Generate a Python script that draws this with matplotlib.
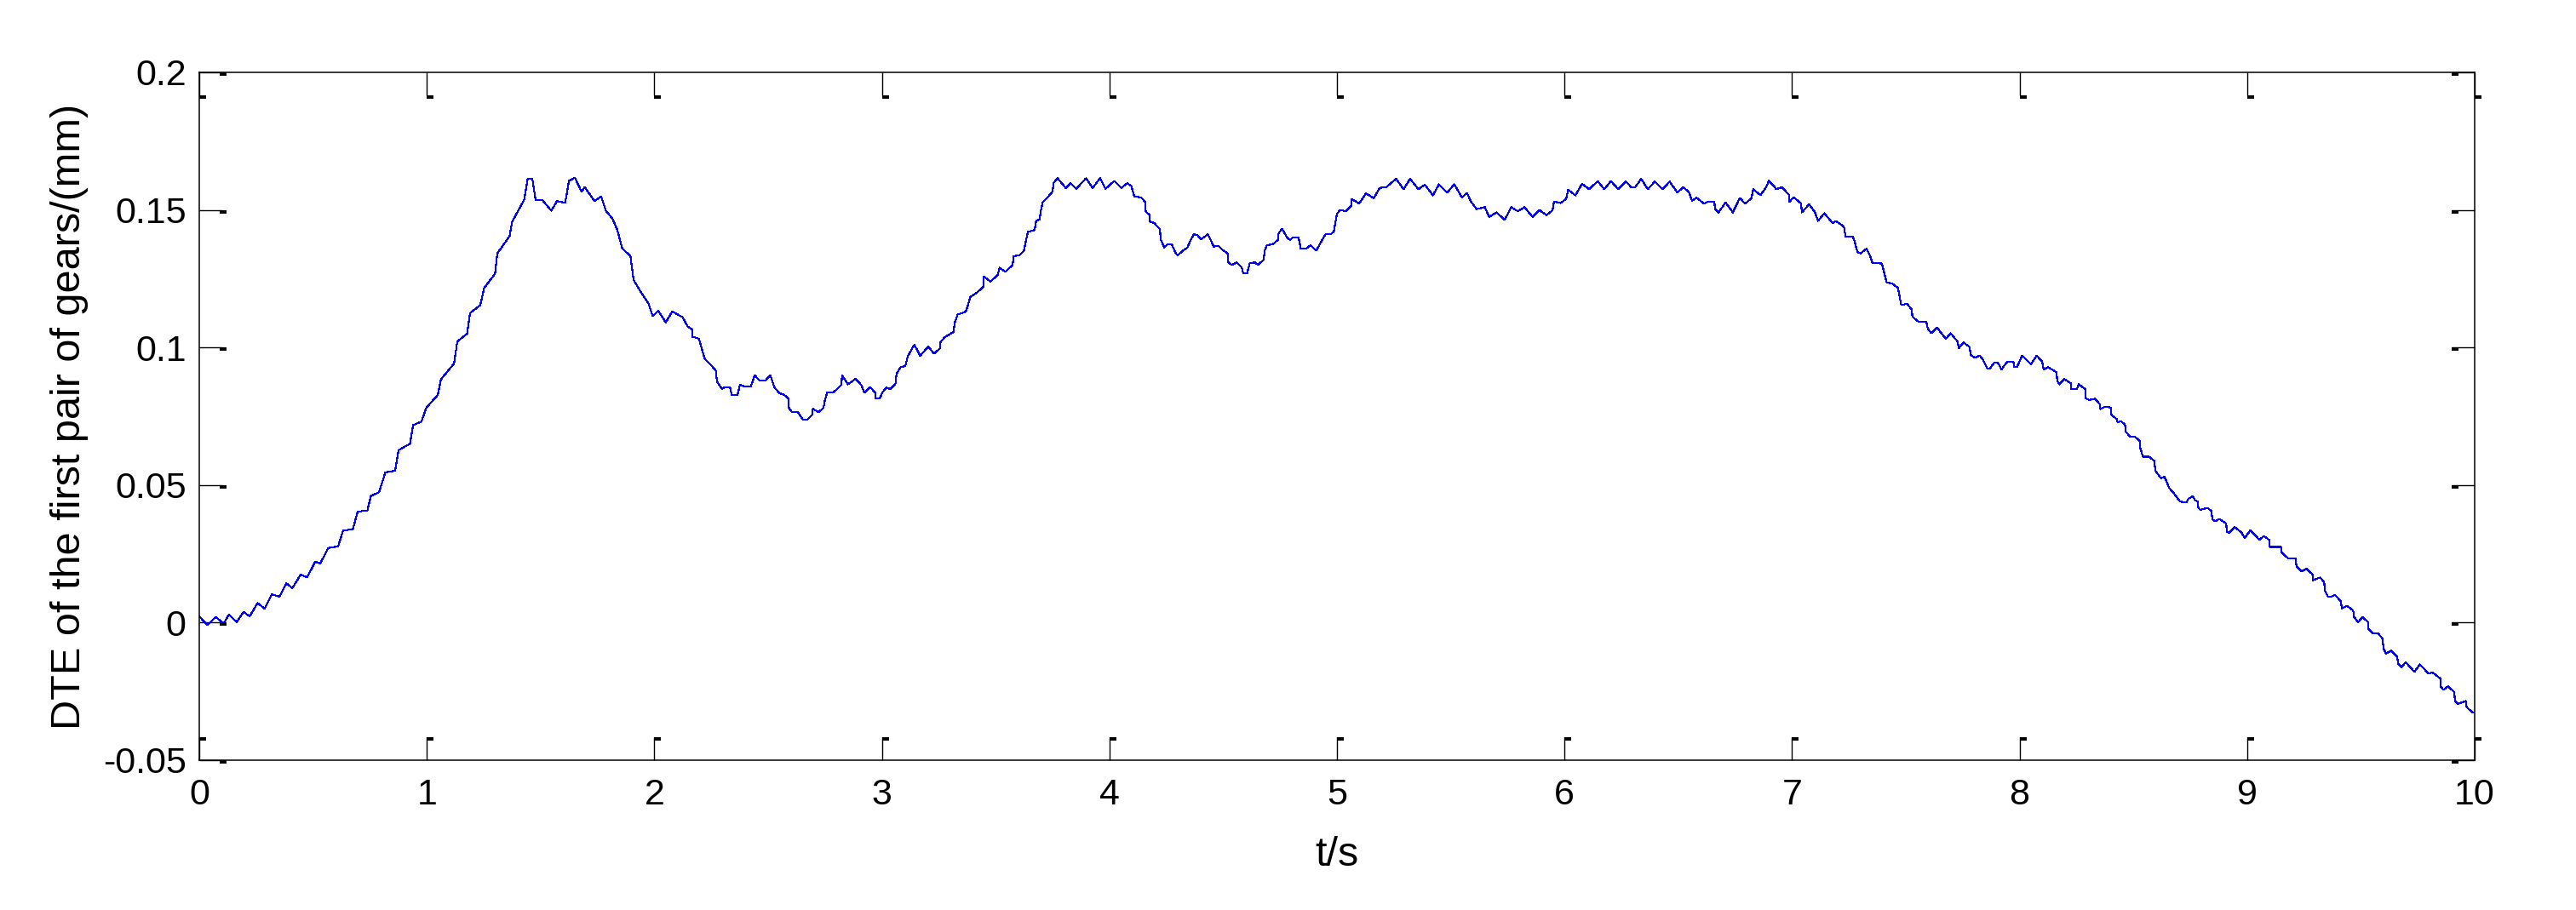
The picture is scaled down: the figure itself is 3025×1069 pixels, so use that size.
import matplotlib
matplotlib.use('Agg')
import matplotlib.pyplot as plt
from matplotlib.patches import Rectangle
from matplotlib.transforms import IdentityTransform

plt.rcParams['font.family'] = ['Liberation Sans', 'DejaVu Sans']

# --- data (t in s, DTE in mm) ---
# 0 .. 2.1 s : rise to the first peak
t_rise = [0.000, 0.036, 0.072, 0.108, 0.130, 0.165, 0.194, 0.222, 0.256, 0.287,
          0.319, 0.352, 0.383, 0.409, 0.445, 0.474, 0.510, 0.531, 0.567, 0.610,
          0.632, 0.675, 0.696, 0.739, 0.754, 0.790, 0.818, 0.861, 0.876, 0.926,
          0.940, 0.976, 0.998, 1.048, 1.062, 1.120, 1.134, 1.177, 1.190, 1.235,
          1.252, 1.300, 1.310, 1.364, 1.375, 1.428, 1.443, 1.464, 1.478, 1.507,
          1.547, 1.572, 1.608, 1.625, 1.651, 1.680, 1.694, 1.737, 1.766, 1.787,
          1.816, 1.837, 1.859, 1.895, 1.909, 1.938, 1.974, 1.993, 2.017, 2.050,
          2.079]
dte_rise = [0.0023, -0.0009, 0.0020, -0.0003, 0.0029, 0.0002, 0.0039, 0.0023, 0.0071, 0.0051,
            0.0103, 0.0094, 0.0143, 0.0125, 0.0174, 0.0165, 0.0222, 0.0214, 0.0271, 0.0277,
            0.0334, 0.0340, 0.0403, 0.0408, 0.0460, 0.0474, 0.0546, 0.0552, 0.0627, 0.0650,
            0.0718, 0.0730, 0.0781, 0.0827, 0.0884, 0.0942, 0.1022, 0.1050, 0.1125, 0.1154,
            0.1216, 0.1268, 0.1342, 0.1405, 0.1457, 0.1537, 0.1612, 0.1612, 0.1537, 0.1537,
            0.1497, 0.1532, 0.1526, 0.1606, 0.1617, 0.1566, 0.1583, 0.1532, 0.1549, 0.1497,
            0.1468, 0.1428, 0.1360, 0.1332, 0.1245, 0.1205, 0.1160, 0.1114, 0.1134, 0.1091,
            0.1131]

# 2.1 .. 4.3 s : valley and second peak
t_valley = [2.124, 2.146, 2.168, 2.168, 2.196, 2.211, 2.222, 2.247, 2.271, 2.275,
            2.297, 2.311, 2.333, 2.340, 2.366, 2.376, 2.398, 2.424, 2.441, 2.463,
            2.487, 2.510, 2.527, 2.549, 2.568, 2.588, 2.592, 2.606, 2.631, 2.654,
            2.671, 2.693, 2.697, 2.721, 2.743, 2.750, 2.760, 2.786, 2.822, 2.825,
            2.851, 2.884, 2.909, 2.923, 2.949, 2.970, 2.973, 2.991, 3.002, 3.019,
            3.038, 3.060, 3.064, 3.081, 3.103, 3.114, 3.134, 3.143, 3.168, 3.204,
            3.229, 3.254, 3.258, 3.276, 3.316, 3.319, 3.333, 3.369, 3.379, 3.388,
            3.412, 3.445, 3.448, 3.477, 3.509, 3.517, 3.542, 3.575, 3.578, 3.604,
            3.624, 3.632, 3.642, 3.671, 3.678, 3.693, 3.700, 3.707, 3.729, 3.750,
            3.755, 3.772, 3.808, 3.829, 3.854, 3.897, 3.926, 3.959, 3.983, 4.021,
            4.053, 4.078, 4.096, 4.110, 4.139, 4.156, 4.160, 4.175, 4.179, 4.196,
            4.222, 4.225, 4.240, 4.254, 4.275, 4.290, 4.300, 4.326]
dte_valley = [0.1110, 0.1077, 0.1064, 0.1039, 0.1032, 0.0988, 0.0958, 0.0938, 0.0915, 0.0876,
              0.0849, 0.0856, 0.0854, 0.0827, 0.0829, 0.0864, 0.0858, 0.0858, 0.0899, 0.0879,
              0.0879, 0.0899, 0.0856, 0.0834, 0.0829, 0.0816, 0.0777, 0.0765, 0.0765, 0.0737,
              0.0737, 0.0755, 0.0777, 0.0765, 0.0780, 0.0810, 0.0836, 0.0836, 0.0864, 0.0899,
              0.0866, 0.0886, 0.0864, 0.0836, 0.0856, 0.0836, 0.0814, 0.0816, 0.0836, 0.0854,
              0.0849, 0.0869, 0.0903, 0.0928, 0.0933, 0.0968, 0.0998, 0.1010, 0.0970, 0.1003,
              0.0978, 0.0995, 0.1020, 0.1037, 0.1057, 0.1087, 0.1120, 0.1130, 0.1156, 0.1183,
              0.1196, 0.1219, 0.1258, 0.1240, 0.1263, 0.1290, 0.1275, 0.1300, 0.1332, 0.1335,
              0.1351, 0.1384, 0.1420, 0.1427, 0.1460, 0.1466, 0.1503, 0.1528, 0.1546, 0.1567,
              0.1599, 0.1615, 0.1580, 0.1597, 0.1577, 0.1615, 0.1580, 0.1615, 0.1577, 0.1605,
              0.1580, 0.1597, 0.1587, 0.1548, 0.1546, 0.1530, 0.1493, 0.1483, 0.1456, 0.1453,
              0.1430, 0.1394, 0.1364, 0.1374, 0.1374, 0.1344, 0.1335, 0.1354]

# 4.3 .. 6.6 s : plateau
t_plateau = [4.342, 4.357, 4.371, 4.386, 4.403, 4.432, 4.445, 4.458, 4.480, 4.494,
             4.519, 4.523, 4.538, 4.559, 4.581, 4.588, 4.605, 4.617, 4.639, 4.653,
             4.678, 4.682, 4.692, 4.718, 4.740, 4.744, 4.759, 4.780, 4.793, 4.808,
             4.831, 4.841, 4.866, 4.884, 4.909, 4.935, 4.949, 4.971, 4.986, 5.000,
             5.014, 5.039, 5.062, 5.065, 5.097, 5.127, 5.162, 5.188, 5.217, 5.260,
             5.293, 5.321, 5.358, 5.386, 5.422, 5.448, 5.484, 5.516, 5.549, 5.571,
             5.589, 5.614, 5.650, 5.669, 5.701, 5.737, 5.766, 5.795, 5.824, 5.860,
             5.889, 5.921, 5.947, 5.954, 5.983, 6.007, 6.016, 6.048, 6.077, 6.109,
             6.146, 6.175, 6.204, 6.236, 6.270, 6.293, 6.311, 6.337, 6.366, 6.397,
             6.431, 6.462, 6.496, 6.522, 6.546, 6.561, 6.580]
dte_plateau = [0.1362, 0.1391, 0.1411, 0.1409, 0.1393, 0.1411, 0.1391, 0.1367, 0.1369, 0.1357,
               0.1342, 0.1309, 0.1300, 0.1309, 0.1292, 0.1270, 0.1270, 0.1307, 0.1309, 0.1300,
               0.1319, 0.1352, 0.1372, 0.1375, 0.1391, 0.1416, 0.1431, 0.1401, 0.1391, 0.1401,
               0.1401, 0.1360, 0.1360, 0.1372, 0.1352, 0.1391, 0.1411, 0.1411, 0.1421, 0.1486,
               0.1500, 0.1495, 0.1515, 0.1540, 0.1523, 0.1560, 0.1543, 0.1580, 0.1583, 0.1613,
               0.1575, 0.1613, 0.1575, 0.1592, 0.1553, 0.1593, 0.1563, 0.1593, 0.1545, 0.1562,
               0.1530, 0.1503, 0.1510, 0.1474, 0.1491, 0.1464, 0.1510, 0.1495, 0.1510, 0.1474,
               0.1500, 0.1481, 0.1498, 0.1530, 0.1525, 0.1540, 0.1573, 0.1553, 0.1595, 0.1575,
               0.1605, 0.1575, 0.1605, 0.1575, 0.1603, 0.1583, 0.1583, 0.1613, 0.1575, 0.1603,
               0.1575, 0.1603, 0.1563, 0.1583, 0.1565, 0.1533, 0.1545]

# 6.6 .. 7.9 s : start of the fall
t_fall = [6.613, 6.630, 6.659, 6.661, 6.677, 6.708, 6.740, 6.770, 6.794, 6.822,
          6.829, 6.861, 6.886, 6.898, 6.922, 6.929, 6.955, 6.986, 6.989, 7.007,
          7.040, 7.043, 7.075, 7.100, 7.114, 7.142, 7.178, 7.192, 7.228, 7.235,
          7.267, 7.277, 7.287, 7.302, 7.327, 7.341, 7.353, 7.395, 7.405, 7.415,
          7.441, 7.466, 7.472, 7.480, 7.505, 7.526, 7.529, 7.555, 7.590, 7.597,
          7.612, 7.637, 7.654, 7.676, 7.697, 7.728, 7.733, 7.754, 7.780, 7.785,
          7.804, 7.825, 7.839, 7.858, 7.870, 7.889]
dte_fall = [0.1523, 0.1530, 0.1530, 0.1504, 0.1491, 0.1527, 0.1491, 0.1543, 0.1523, 0.1543,
            0.1575, 0.1554, 0.1582, 0.1606, 0.1585, 0.1575, 0.1582, 0.1556, 0.1530, 0.1546,
            0.1523, 0.1491, 0.1520, 0.1493, 0.1460, 0.1488, 0.1452, 0.1460, 0.1439, 0.1404,
            0.1404, 0.1380, 0.1347, 0.1342, 0.1359, 0.1337, 0.1308, 0.1305, 0.1272, 0.1237,
            0.1232, 0.1216, 0.1188, 0.1154, 0.1159, 0.1138, 0.1112, 0.1094, 0.1094, 0.1067,
            0.1052, 0.1073, 0.1054, 0.1031, 0.1052, 0.1021, 0.0997, 0.1018, 0.1002, 0.0973,
            0.0962, 0.0971, 0.0955, 0.0924, 0.0924, 0.0945]

# 7.9 .. 10 s : tail
t_tail = [7.905, 7.921, 7.932, 7.948, 7.973, 7.976, 7.989, 8.011, 8.050, 8.075,
          8.099, 8.106, 8.125, 8.163, 8.165, 8.176, 8.196, 8.226, 8.228, 8.251,
          8.260, 8.288, 8.291, 8.305, 8.332, 8.352, 8.355, 8.373, 8.400, 8.404,
          8.427, 8.431, 8.444, 8.463, 8.467, 8.485, 8.508, 8.528, 8.531, 8.542,
          8.569, 8.593, 8.596, 8.621, 8.637, 8.657, 8.678, 8.705, 8.725, 8.734,
          8.742, 8.762, 8.770, 8.783, 8.786, 8.795, 8.827, 8.843, 8.847, 8.860,
          8.878, 8.908, 8.911, 8.921, 8.946, 8.976, 8.989, 9.014, 9.037, 9.054,
          9.073, 9.098, 9.100, 9.122, 9.149, 9.152, 9.179, 9.213, 9.217, 9.240,
          9.260, 9.287, 9.290, 9.321, 9.339, 9.341, 9.355, 9.369, 9.385, 9.412,
          9.416, 9.439, 9.466, 9.470, 9.488, 9.507, 9.532, 9.534, 9.552, 9.575,
          9.596, 9.599, 9.610, 9.633, 9.660, 9.663, 9.678, 9.697, 9.735, 9.759,
          9.796, 9.816, 9.850, 9.852, 9.863, 9.883, 9.911, 9.913, 9.927, 9.961,
          9.965, 9.989, 10.000]
dte_tail = [0.0944, 0.0919, 0.0934, 0.0949, 0.0949, 0.0929, 0.0929, 0.0971, 0.0939, 0.0971,
            0.0949, 0.0919, 0.0929, 0.0909, 0.0879, 0.0866, 0.0886, 0.0869, 0.0848, 0.0848,
            0.0866, 0.0849, 0.0816, 0.0809, 0.0814, 0.0794, 0.0776, 0.0784, 0.0782, 0.0754,
            0.0740, 0.0727, 0.0733, 0.0720, 0.0693, 0.0677, 0.0675, 0.0660, 0.0633, 0.0603,
            0.0603, 0.0587, 0.0553, 0.0525, 0.0530, 0.0490, 0.0470, 0.0440, 0.0437, 0.0437,
            0.0450, 0.0460, 0.0445, 0.0440, 0.0417, 0.0410, 0.0417, 0.0405, 0.0375, 0.0368,
            0.0377, 0.0360, 0.0330, 0.0327, 0.0347, 0.0327, 0.0307, 0.0335, 0.0317, 0.0300,
            0.0315, 0.0300, 0.0275, 0.0275, 0.0275, 0.0255, 0.0234, 0.0234, 0.0204, 0.0186,
            0.0196, 0.0176, 0.0154, 0.0164, 0.0146, 0.0118, 0.0094, 0.0094, 0.0101, 0.0078,
            0.0051, 0.0061, 0.0044, 0.0021, 0.0001, 0.0021, 0.0001, -0.0024, -0.0039, -0.0039,
            -0.0059, -0.0094, -0.0112, -0.0102, -0.0124, -0.0149, -0.0162, -0.0144, -0.0179, -0.0152,
            -0.0184, -0.0182, -0.0204, -0.0234, -0.0244, -0.0232, -0.0253, -0.0285, -0.0295, -0.0285,
            -0.0308, -0.0325, -0.0328]

t_s = t_rise + t_valley + t_plateau + t_fall + t_tail
dte_mm = dte_rise + dte_valley + dte_plateau + dte_fall + dte_tail

x_ticks = [0, 1, 2, 3, 4, 5, 6, 7, 8, 9, 10]
x_labels = ['0', '1', '2', '3', '4', '5', '6', '7', '8', '9', '10']
y_ticks = [-0.05, 0, 0.05, 0.1, 0.15, 0.2]
y_labels = ['-0.05', '0', '0.05', '0.1', '0.15', '0.2']

# --- figure (pixel layout of the 3025x1069 reference) ---
W, H = 3025, 1069
left_px, right_px, top_px, bottom_px = 234, 2906, 85, 893
fig = plt.figure(figsize=(W / 100, H / 100), dpi=100)
ax = fig.add_axes([left_px / W, 1 - bottom_px / H,
                   (right_px - left_px) / W, (bottom_px - top_px) / H])

ax.plot(t_s, dte_mm, color='#0000ff', lw=0.8, antialiased=False)

ax.set_xlim(0, 10)
ax.set_ylim(-0.05, 0.2)
ax.set_xticks(x_ticks)
ax.set_xticklabels(x_labels)
ax.set_yticks(y_ticks)
ax.set_yticklabels(y_labels)

tick_len = 27  # px
ax.tick_params(direction='in', length=tick_len * 0.72, width=1.0,
               top=True, right=True, labelsize=31, colors='black')
ax.tick_params(axis='x', pad=15)
ax.tick_params(axis='y', pad=11)
for sp in ax.spines.values():
    sp.set_linewidth(1.1)
    sp.set_color('black')

ax.set_xlabel('t/s', fontsize=35, labelpad=20)
ax.set_ylabel('DTE of the first pair of gears/(mm)', fontsize=35, labelpad=12)

# small black caps at the tick tips (as in the exported reference)
to_px = ax.transData.transform
y_bot = H - bottom_px
y_top = H - top_px
for xt in x_ticks:
    xp = to_px((xt, 0))[0]
    for tip in (y_bot + tick_len, y_top - tick_len):
        fig.add_artist(Rectangle((xp, tip - 4), 8, 4, transform=IdentityTransform(),
                                 color='black', lw=0, zorder=5))
for yt in y_ticks:
    yp = to_px((0, yt))[1]
    for x0 in (left_px + tick_len - 3, right_px - tick_len):
        fig.add_artist(Rectangle((x0, yp - 4), 8, 4, transform=IdentityTransform(),
                                 color='black', lw=0, zorder=5))

fig.savefig('out.png', dpi=100, facecolor='white')
